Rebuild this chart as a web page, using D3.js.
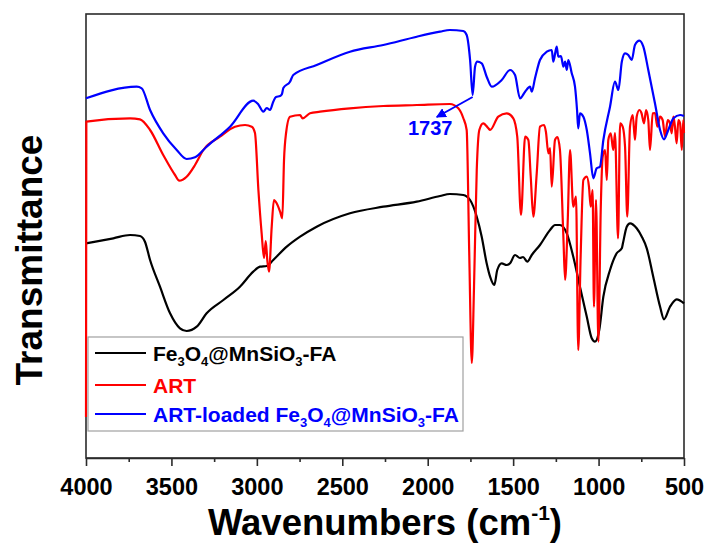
<!DOCTYPE html>
<html><head><meta charset="utf-8">
<script src="https://cdn.jsdelivr.net/npm/d3@7/dist/d3.min.js"></script>
<style>
html,body{margin:0;padding:0;background:#fff;}
svg{display:block;font-family:"Liberation Sans",Arial,sans-serif;}
</style></head>
<body>
<svg id="chart" width="710" height="552"></svg>
<script>
// ---- Data (wavenumber cm^-1, transmittance in arbitrary units) ----
const blackWn = [4000,3840,3742,3684,3655,3625,3567,3508,3450,3411,3352,3294,3196,3099,3021,2982,2942,2904,2825,2747,2650,2455,2260,2064,1928,1870,1792,1752,1713,1684,1655,1635,1610,1593,1567,1538,1518,1489,1460,1442,1417,1391,1343,1284,1255,1226,1186,1148,1109,1069,1040,1021,996,972,933,894,864,857,835,816,777,747,718,680,640,617,582,543,500];
const blackT  = [214.7,219.7,223,222,216.3,198,171.3,144.7,129.7,127,131.3,144.7,158,171.3,186.3,191.3,192,198,211.3,221.3,231.3,244.7,251.3,256.3,262,264,263,258,241.3,221.3,194.7,181.3,173,188,194.7,193,194.7,203,200,201,196.3,203,213,228,233,233,224.7,201.3,171.3,141.3,119.7,116.3,128,161.3,188,204.7,209.7,215,231.3,234.7,229.7,221.3,209.7,181.3,151.3,138.7,151.3,158.7,154.7];

const redWn = [4000,3998,3742,3684,3625,3548,3479,3454,3411,3362,3313,3216,3128,3069,3030,3011,2991,2972,2958,2948,2939,2929,2913,2900,2884,2864,2851,2841,2829,2806,2747,2732,2689,2630,2455,2260,2064,1870,1821,1792,1772,1757,1742,1729,1713,1698,1675,1645,1635,1587,1538,1499,1476,1454,1430,1411,1397,1382,1362,1343,1319,1308,1294,1284,1274,1255,1241,1226,1206,1196,1181,1167,1148,1132,1119,1105,1089,1069,1056,1046,1035,1027,1015,1001,987,976,962,952,943,929,914,904,886,874,859,845,832,816,800,787,777,761,749,734,722,709,699,683,670,656,640,625,611,595,582,572,562,553,543,533,523,513,504,500];
const redT  = [41,336.3,339.7,338.7,328,303,283,277.3,281.3,293,308,321.3,331.3,333,331.3,325,268,224.7,200,217,198,186.3,231.3,258,254.7,246.3,239.7,298,325,341.3,343,339.7,344.7,346.3,349.7,352,353,354,349.7,340,328,205,95,171.3,288,328,334.7,329.7,328,341.3,344.7,339.7,321.3,243,321.3,318,281.3,241.3,284.7,331.3,333,326,304.7,310,271.3,318,321,308,221.3,178,234.7,308,251.3,261.3,108,201.3,278,281.3,271,251.3,268,151.3,258,116.3,251.3,301.3,308,278,318,324.7,308,325,219.7,334.7,331.3,311.3,241.3,331.3,343,318,341.3,348,345,334.7,348,338,308,344.7,345,331.3,341.3,338,321.3,338,334.7,324.7,341.3,331.3,314.7,338,334.7,308,338,325];

const blueWn = [4000,3703,3674,3625,3548,3469,3411,3362,3294,3157,3021,2993,2962,2942,2923,2904,2888,2864,2853,2845,2806,2787,2650,2455,2260,2064,1928,1870,1792,1772,1752,1737,1723,1710,1684,1655,1625,1567,1518,1489,1460,1430,1401,1391,1372,1343,1303,1274,1265,1245,1236,1220,1206,1196,1186,1177,1157,1138,1126,1119,1109,1089,1069,1050,1031,1011,992,972,933,904,884,864,845,826,806,787,761,738,709,670,640,617,592,562,523,500];
const blueT  = [359.7,371.3,369.7,348,324.7,308,299,300.7,311.3,331.3,357.3,354,346.3,350,348,356.3,361,362,364,370,376.3,383,393,406.3,413,421.3,426.3,428,427,423,398,363,391.3,396.3,394.7,381.3,371.3,378,388,383,359.7,366.3,371.3,366.3,379.7,398,406.3,408,396.3,411.3,401.3,402,391.3,396.3,388,398,384.7,371.3,348,329.7,344.7,341.3,328,304.7,279.7,289.7,291.3,318,351.3,376.3,368,396.3,404.7,403,398,413,417.3,411.3,388,354.7,328,318.7,328,339.7,343,342];

const seriesNames  = ["black","red","blue"];
const seriesColors = ["#000000","#ff0000","#0000ff"];
const xMajorTicks = [4000,3500,3000,2500,2000,1500,1000,500];
const xMinorTicks = [3750,3250,2750,2250,1750,1250,750];
const annotWn = [1737, 1947];   // arrow start, arrow tip
const annotT  = [361, 341];
const annotLabel = "1737";

// ---- Layout ----
const svg = d3.select("#chart");
const L = 86, R = 684, T = 14, B = 458;
const x = d3.scaleLinear().domain([4000, 500]).range([L, R]);
const y = d3.scaleLinear().domain([0, 444]).range([B, T]);

// frame
svg.append("rect").attr("x", L).attr("y", T).attr("width", R - L).attr("height", B - T)
  .attr("fill", "none").attr("stroke", "#2b2b2b").attr("stroke-width", 1.6);

// x axis
const ax = svg.append("g").attr("transform", `translate(0,${B})`)
  .call(d3.axisBottom(x).tickValues(xMajorTicks).tickSize(8).tickSizeOuter(0).tickFormat(d3.format("d")));
ax.select(".domain").attr("stroke", "#2b2b2b").attr("stroke-width", 1.6);
ax.selectAll(".tick line").attr("stroke", "#2b2b2b").attr("stroke-width", 1.6);
ax.selectAll(".tick text").attr("font-size", 23.5).attr("font-weight", "bold")
  .attr("fill", "#000").attr("font-family", "Liberation Sans, Arial, sans-serif").attr("dy", null).attr("y", 37);
const axm = svg.append("g").attr("transform", `translate(0,${B})`)
  .call(d3.axisBottom(x).tickValues(xMinorTicks).tickSize(4).tickSizeOuter(0).tickFormat(""));
axm.select(".domain").remove();
axm.selectAll(".tick line").attr("stroke", "#2b2b2b").attr("stroke-width", 1.6);

// curves
const line = d3.line().x(d => x(d[0])).y(d => y(d[1])).curve(d3.curveMonotoneX);
const seriesData = [
  d3.zip(blackWn, blackT),
  d3.zip(redWn, redT),
  d3.zip(blueWn, blueT)
];
seriesData.forEach((pts, i) => {
  svg.append("path").datum(pts).attr("d", line)
    .attr("fill", "none").attr("stroke", seriesColors[i]).attr("stroke-width", 2.2)
    .attr("stroke-linejoin", "round");
});

// annotation arrow
const defs = svg.append("defs");
defs.append("marker").attr("id", "ah").attr("viewBox", "0 0 10 10").attr("refX", 9).attr("refY", 5)
  .attr("markerWidth", 5).attr("markerHeight", 5).attr("orient", "auto")
  .append("path").attr("d", "M0,0 L10,5 L0,10 Z").attr("fill", "#0000ff");
svg.append("line")
  .attr("x1", x(annotWn[0])).attr("y1", y(annotT[0]))
  .attr("x2", x(annotWn[1])).attr("y2", y(annotT[1]))
  .attr("stroke", "#0000ff").attr("stroke-width", 2).attr("marker-end", "url(#ah)");
svg.append("text").attr("x", 408).attr("y", 135).attr("fill", "#0000ff")
  .attr("font-size", 20).attr("font-weight", "bold").text(annotLabel);

// legend
const leg = svg.append("g");
leg.append("rect").attr("x", 88).attr("y", 337).attr("width", 375).attr("height", 94)
  .attr("fill", "#fff").attr("stroke", "#a0a0a0").attr("stroke-width", 1.2);
const legY = [353, 385, 414];
const legendParts = [
  [["Fe",0],["3",1],["O",0],["4",1],["@MnSiO",0],["3",1],["-FA",0]],
  [["ART",0]],
  [["ART-loaded Fe",0],["3",1],["O",0],["4",1],["@MnSiO",0],["3",1],["-FA",0]]
];
legendParts.forEach((parts, i) => {
  leg.append("line").attr("x1", 95).attr("x2", 146).attr("y1", legY[i]).attr("y2", legY[i])
    .attr("stroke", seriesColors[i]).attr("stroke-width", 2.2);
  const t = leg.append("text").attr("x", 153).attr("y", legY[i] + 8)
    .attr("font-size", 21).attr("font-weight", "bold").attr("fill", seriesColors[i]);
  let sub = false;
  parts.forEach(([s, isSub]) => {
    const ts = t.append("tspan").text(s);
    if (isSub && !sub) { ts.attr("dy", 5).attr("font-size", 13); sub = true; }
    else if (!isSub && sub) { ts.attr("dy", -5); sub = false; }
    else if (isSub) { ts.attr("font-size", 13); }
  });
});

// axis titles
const xt = svg.append("text").attr("x", (L + R) / 2).attr("y", 535).attr("text-anchor", "middle")
  .attr("font-size", 36.5).attr("font-weight", "bold").attr("fill", "#000");
xt.append("tspan").text("Wavenumbers (cm");
xt.append("tspan").text("-1").attr("font-size", 21).attr("dy", -15);
xt.append("tspan").text(")").attr("dy", 15);

svg.append("text").attr("transform", "translate(42,260) rotate(-90)").attr("text-anchor", "middle")
  .attr("font-size", 37).attr("font-weight", "bold").attr("fill", "#000").text("Transmittance");
</script>
</body></html>
